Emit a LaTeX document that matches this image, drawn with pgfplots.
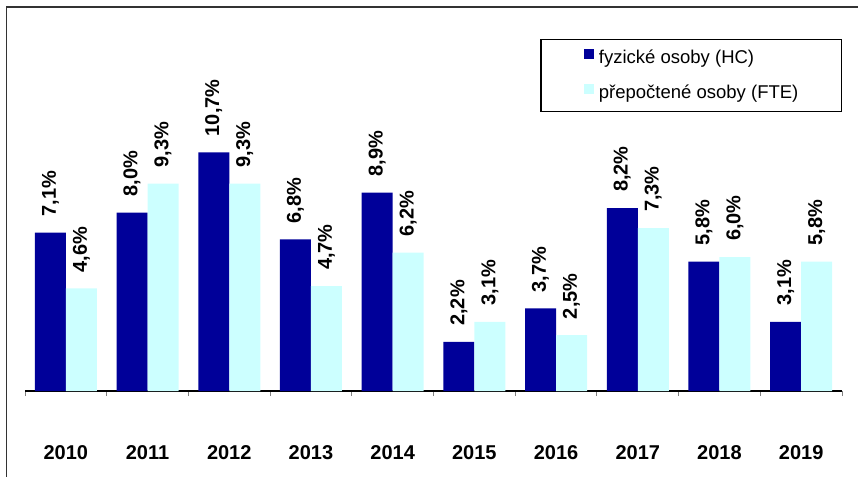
\documentclass[border=0pt]{standalone}
\usepackage{pgfplots}
\pgfplotsset{compat=1.18}
\usepackage{fontspec}
\setmainfont{Liberation Sans}
\definecolor{hc}{RGB}{0,0,153}
\definecolor{fte}{RGB}{204,255,255}
\begin{document}
\begin{tikzpicture}
\begin{axis}[
  name=ax,
  scale only axis,
  width=817bp, height=368bp,
  xmin=-0.5, xmax=9.5, ymin=0, ymax=16.5,
  ybar=0pt, bar width=31bp,
  axis x line*=bottom,
  hide y axis,
  x axis line style={line width=1.2pt, black},
  xtick={0,...,9},
  xticklabels={2010,2011,2012,2013,2014,2015,2016,2017,2018,2019},
  major tick length=0pt,
  minor xtick={-0.5,0.5,...,9.5},
  minor tick length=5bp,
  tick align=outside,
  minor tick style={gray, line width=1pt},
  xticklabel style={font=\fontsize{20bp}{24bp}\selectfont\bfseries, yshift=-51bp},
  clip=false,
  /pgf/number format/assume math mode=true,
  nodes near coords={\pgfmathprintnumber[fixed, fixed zerofill, precision=1, use comma]{\pgfplotspointmeta}\%},
  every node near coord/.append style={rotate=90, anchor=west, inner xsep=16bp, inner ysep=0pt, font=\fontsize{20bp}{24bp}\selectfont\bfseries, black},
  legend image code/.code={\fill[#1] (0bp,0bp) rectangle (10bp,10bp);},
  legend cell align=left,
  legend style={at={(1,1)}, anchor=north east, yshift=-16bp, draw=black, line width=1.2pt,
    inner xsep=43bp, inner ysep=9.5bp, row sep=16bp, column sep=5bp,
    font=\fontsize{18.5bp}{22bp}\selectfont,
    nodes={inner sep=0pt, text height=13bp, text depth=4bp}},
]
\addplot[fill=hc, draw=none] coordinates {(0,7.1) (1,8.0) (2,10.7) (3,6.8) (4,8.9) (5,2.2) (6,3.7) (7,8.2) (8,5.8) (9,3.1)};
\addplot[fill=fte, draw=none] coordinates {(0,4.6) (1,9.3) (2,9.3) (3,4.7) (4,6.2) (5,3.1) (6,2.5) (7,7.3) (8,6.0) (9,5.8)};
\legend{fyzické osoby (HC), přepočtené osoby (FTE)}
\end{axis}
\draw[line width=1.5pt, black!80] ([shift={(-18.5bp,-90bp)}]ax.south west) -- ([shift={(-18.5bp,384bp)}]ax.south west) -- ([shift={(840bp,384bp)}]ax.south west);
\pgfresetboundingbox
\path[use as bounding box] ([shift={(-25bp,-86bp)}]ax.south west) rectangle ([shift={(833bp,391bp)}]ax.south west);
\end{tikzpicture}
\end{document}
